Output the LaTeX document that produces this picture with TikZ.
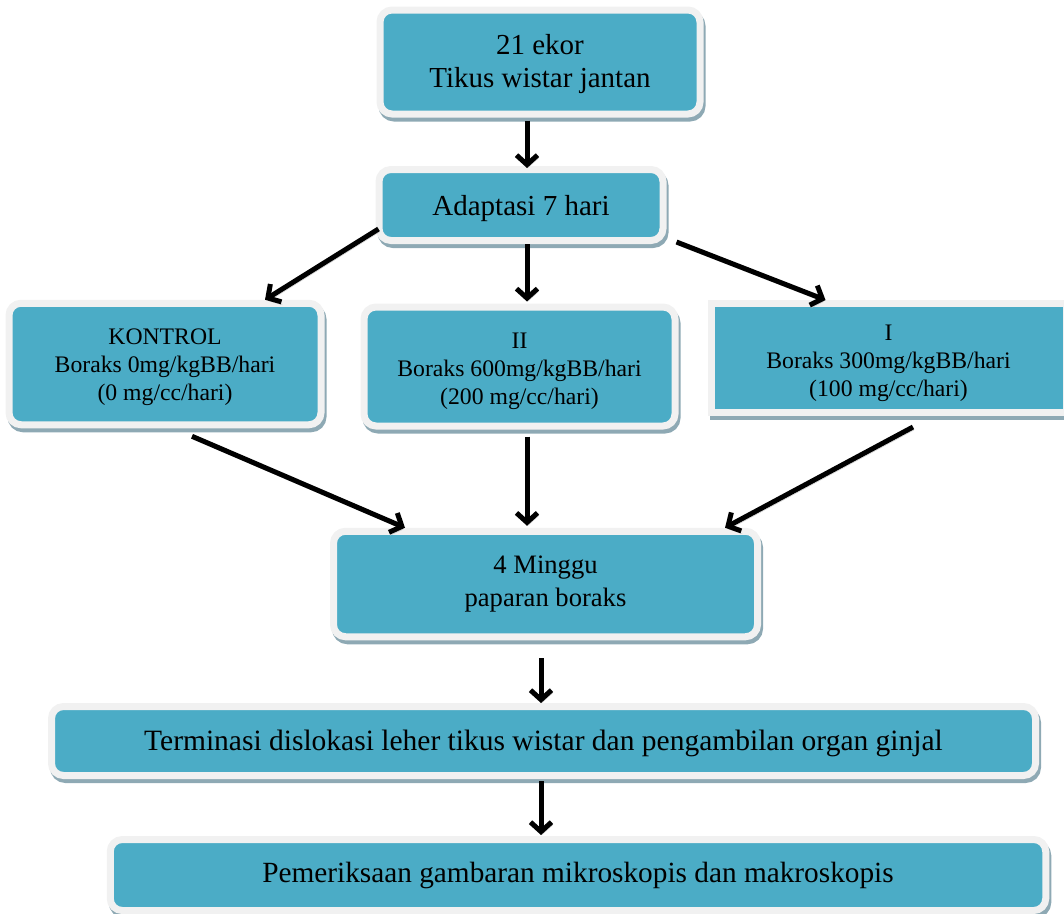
\documentclass[tikz,border=0pt]{standalone}
\usepackage{fontspec}
\setmainfont{Liberation Serif}
\usetikzlibrary{arrows.meta,calc}
\definecolor{tealfill}{HTML}{4BACC6}
\definecolor{ringc}{HTML}{F1F1F1}
\definecolor{shadowc}{HTML}{8EA9B4}
\definecolor{arrshadow}{HTML}{C8C8C8}
\tikzset{
  box/.style={draw=ringc, fill=tealfill, line width=7pt, rounded corners=12pt,
    inner sep=0pt,
    preaction={draw=shadowc, fill=shadowc, transform canvas={xshift=2pt,yshift=-4pt}}},
  sqbox/.style={box, rounded corners=0pt},
  txt/.style={align=center, inner sep=0pt, text=black},
  bigtxt/.style={txt, font=\fontsize{29}{33}\selectfont},
  midtxt/.style={txt, font=\fontsize{26.6}{33}\selectfont},
  smalltxt/.style={txt, font=\fontsize{23.7}{27.8}\selectfont},
  arr/.style={line width=5pt, draw=black, -{Straight Barb[length=9.5pt,width=21pt]},
    preaction={draw=arrshadow, transform canvas={xshift=1pt,yshift=-3pt}}},
}
\begin{document}
\begin{tikzpicture}[x=1pt,y=-1pt]
\useasboundingbox (0,0) rectangle (1064,913);
% boxes
\node[box, minimum width=320pt, minimum height=104pt] (top) at (540,62) {};
\node[box, minimum width=284pt, minimum height=71pt] (adapt) at (521,205) {};
\node[box, minimum width=312pt, minimum height=121.5pt] (kontrol) at (165,364) {};
\node[box, minimum width=311pt, minimum height=119pt] (ii) at (519.5,366.5) {};
\node[sqbox, minimum width=355pt, minimum height=109pt] (i) at (888.5,358) {};
\node[box, minimum width=424pt, minimum height=105.5pt] (minggu) at (545.5,584) {};
\node[box, minimum width=984pt, minimum height=69pt] (term) at (543.5,741) {};
\node[box, minimum width=935.5pt, minimum height=71pt] (pem) at (578,875) {};
% texts
\node[bigtxt] (toptxt) at ($(top.center)+(0,2)$) {21 ekor\\Tikus wistar jantan};
\node[bigtxt] (adapttxt) at ($(adapt.center)+(0,4)$) {Adaptasi 7 hari};
\node[smalltxt] (kontroltxt) at ($(kontrol.center)+(0,3.5)$) {KONTROL\\Boraks 0mg/kgBB/hari\\(0 mg/cc/hari)};
\node[smalltxt] (iitxt) at ($(ii.center)+(0,5)$) {II\\Boraks 600mg/kgBB/hari\\(200 mg/cc/hari)};
\node[smalltxt] (itxt) at ($(i.center)+(0,5)$) {I\\Boraks 300mg/kgBB/hari\\(100 mg/cc/hari)};
\node[midtxt] (minggutxt) at (minggu.center) {4 Minggu\\paparan boraks};
\node[txt, font=\fontsize{29.5}{33}\selectfont] (termtxt) at ($(term.center)+(0,2)$) {Terminasi dislokasi leher tikus wistar dan pengambilan organ ginjal};
\node[txt, font=\fontsize{29.3}{33}\selectfont] (pemtxt) at (pem.center) {Pemeriksaan gambaran mikroskopis dan makroskopis};
% connectors
\draw[arr] ([xshift=-13pt,yshift=-3pt]top.south) -- ([xshift=6pt,yshift=-2pt]adapt.north);
\draw[arr] ([xshift=3pt,yshift=15pt]adapt.south west) -- ([xshift=100pt]kontrol.north);
\draw[arr] ([xshift=6pt]adapt.south) -- ([xshift=7.5pt,yshift=2pt]ii.north);
\draw[arr] ([xshift=10pt,yshift=2pt]adapt.south east) -- ([xshift=118pt]i.north west);
\draw[arr] ([xshift=27pt,yshift=-8pt]kontrol.south) -- ([xshift=75pt]minggu.north west);
\draw[arr] ([xshift=7.5pt,yshift=-7pt]ii.south) -- ([xshift=-18.5pt,yshift=2pt]minggu.north);
\draw[arr] ([xshift=24.5pt,yshift=-11pt]i.south) -- ([xshift=-36pt]minggu.north east);
\draw[arr] ([xshift=-4.5pt,yshift=-18pt]minggu.south) -- ([xshift=-2.5pt]term.north);
\draw[arr] ([xshift=-2.5pt,yshift=-2pt]term.south) -- ([xshift=-37pt,yshift=1pt]pem.north);
\end{tikzpicture}
\end{document}
